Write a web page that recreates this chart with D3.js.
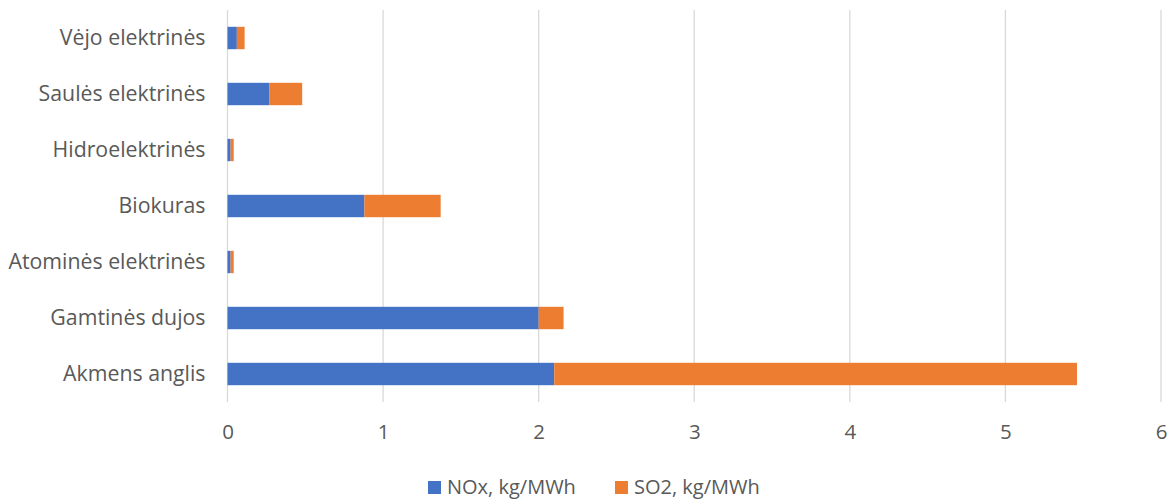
<!DOCTYPE html>
<html>
<head>
<meta charset="utf-8">
<script src="https://cdn.jsdelivr.net/npm/d3@7"></script>
<style>
  html, body { margin: 0; padding: 0; background: #fff; }
  svg { display: block; font-family: "Open Sans", "Liberation Sans", sans-serif; }
</style>
</head>
<body>
<svg id="chart" width="1171" height="499"></svg>
<script>
// Emission factors by generation source
const categories = [
  "Vėjo elektrinės",
  "Saulės elektrinės",
  "Hidroelektrinės",
  "Biokuras",
  "Atominės elektrinės",
  "Gamtinės dujos",
  "Akmens anglis"
];
const noxValues = [0.06, 0.27, 0.02, 0.88, 0.02, 2.0, 2.1];
const so2Values = [0.05, 0.21, 0.02, 0.49, 0.02, 0.16, 3.36];
const seriesNames = ["NOx, kg/MWh", "SO2, kg/MWh"];
const seriesColors = ["#4472C4", "#ED7D31"];
const xTicks = [0, 1, 2, 3, 4, 5, 6];

const svg = d3.select("#chart");
const margin = { top: 10, left: 227.5, right: 10, bottom: 97 };
const width = 1171, height = 499;
const textColor = "#595959";

const rows = categories.map((c, i) => ({ cat: c, nox: noxValues[i], so2: so2Values[i] }));
const stacked = d3.stack().keys(["nox", "so2"])(rows);

const x = d3.scaleLinear().domain([0, 6]).range([margin.left, 1161]);
const y = d3.scaleBand().domain(categories)
  .range([margin.top, height - margin.bottom]).paddingInner(0.6).paddingOuter(0.3);

// vertical gridlines
svg.append("g")
  .selectAll("line").data(xTicks).join("line")
  .attr("x1", d => x(d)).attr("x2", d => x(d))
  .attr("y1", margin.top).attr("y2", height - margin.bottom)
  .attr("stroke", "#d9d9d9").attr("stroke-width", 1.3);

// stacked bars
svg.append("g")
  .selectAll("g").data(stacked).join("g")
  .attr("fill", (d, i) => seriesColors[i])
  .selectAll("rect").data(d => d).join("rect")
  .attr("x", d => x(d[0]))
  .attr("width", d => x(d[1]) - x(d[0]))
  .attr("y", d => y(d.data.cat))
  .attr("height", y.bandwidth());

// x axis tick labels
const xAxis = d3.axisBottom(x).tickValues(xTicks).tickFormat(d3.format("d")).tickSize(0).tickPadding(0);
const gx = svg.append("g").attr("transform", `translate(0, ${height - margin.bottom + 22})`).call(xAxis);
gx.select(".domain").remove();
gx.selectAll("text").attr("fill", textColor).style("font-size", "20.5px")
  .style("font-family", '"Open Sans", sans-serif');

// category labels
const yAxis = d3.axisLeft(y).tickSize(0).tickPadding(22);
const gy = svg.append("g").attr("transform", `translate(${margin.left}, 0)`).call(yAxis);
gy.select(".domain").remove();
gy.selectAll("text").attr("fill", textColor).style("font-size", "21.3px")
  .style("font-family", '"Open Sans", sans-serif');

// legend
const legendX = [428, 615];
const legend = svg.append("g").selectAll("g").data(seriesNames).join("g")
  .attr("transform", (d, i) => `translate(${legendX[i]}, 481)`);
legend.append("rect").attr("width", 13).attr("height", 13)
  .attr("fill", (d, i) => seriesColors[i]);
legend.append("text").attr("x", 19).attr("y", 12.5)
  .attr("fill", textColor).style("font-size", "20px")
  .text(d => d);
</script>
</body>
</html>
